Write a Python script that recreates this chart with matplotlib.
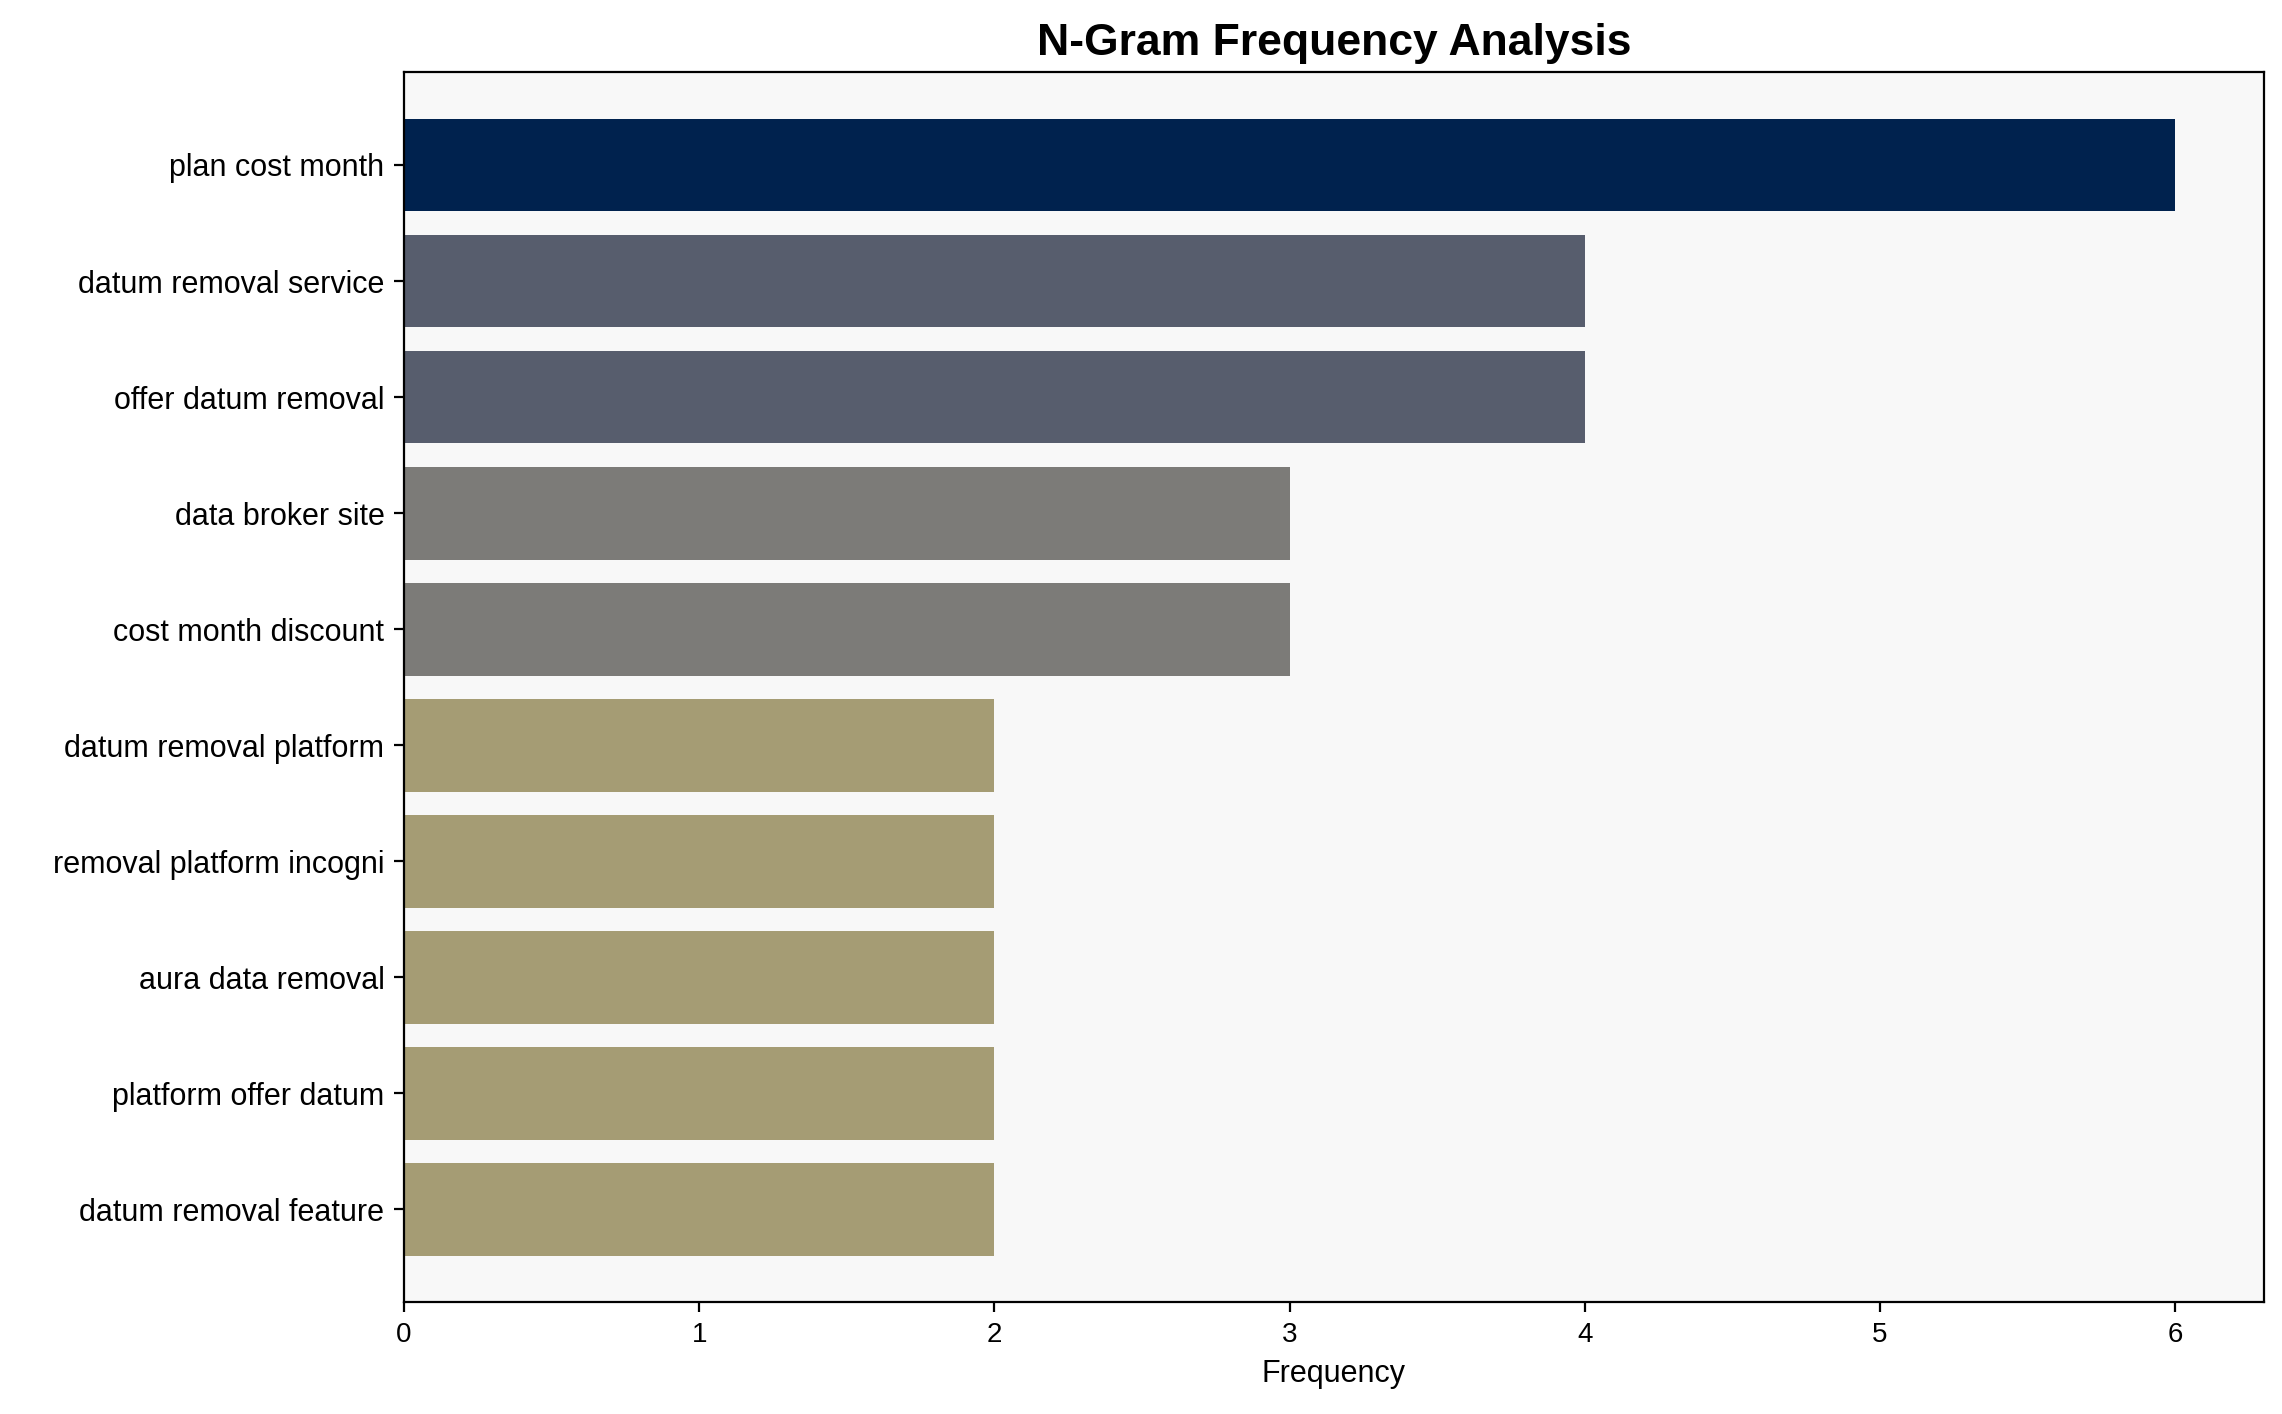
import matplotlib
matplotlib.use("Agg")
import matplotlib.pyplot as plt

plt.rcParams['font.family'] = ['Liberation Sans', 'DejaVu Sans']

ngrams = ["plan cost month", "datum removal service", "offer datum removal",
          "data broker site", "cost month discount", "datum removal platform",
          "removal platform incogni", "aura data removal", "platform offer datum",
          "datum removal feature"]
counts = [6, 4, 4, 3, 3, 2, 2, 2, 2, 2]
shade = {6: "#00224e", 4: "#575d6d", 3: "#7c7b78", 2: "#a59c74"}

fig = plt.figure(figsize=(11.41, 7.07), dpi=200)
ax = fig.add_axes([0.177, 0.079, 0.815, 0.870])
ax.set_facecolor("#f8f8f8")

ypos = list(range(len(ngrams)))[::-1]
ax.barh(ypos, counts, height=0.8, color=[shade[c] for c in counts])
ax.set_yticks(ypos)
ax.set_yticklabels(ngrams, fontsize=11)
ax.tick_params(axis="x", labelsize=10)
ax.set_xlim(0, 6.3)
ax.set_ylim(-0.5 - 0.3, len(ngrams) - 0.5 + 0.3)
ax.set_xlabel("Frequency", fontsize=11)
ax.set_title("N-Gram Frequency Analysis", fontsize=16, fontweight="bold")

fig.savefig("out.png")
